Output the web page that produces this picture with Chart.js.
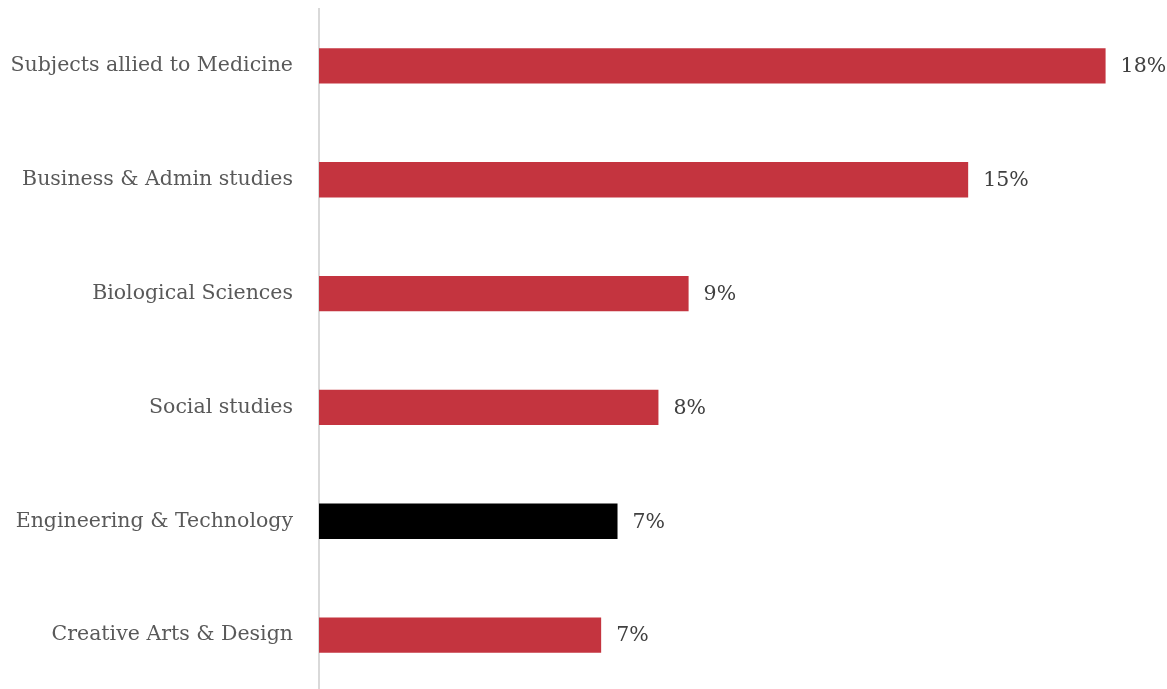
<!DOCTYPE html>
<html>
<head>
<meta charset="utf-8">
<script src="https://cdn.jsdelivr.net/npm/chart.js@4"></script>
<style>
  html, body { margin: 0; padding: 0; background: #fff; overflow: hidden; }
  #wrap { position: relative; width: 1167px; height: 692px; }
</style>
</head>
<body>
<div id="wrap"><canvas id="myChart"></canvas></div>
<script>
// subject areas, top to bottom
const subjects = [
    'Subjects allied to Medicine',
    'Business & Admin studies',
    'Biological Sciences',
    'Social studies',
    'Engineering & Technology',
    'Creative Arts & Design'
];
// share of students (%)
const shares = [18.26, 15.07, 8.58, 7.88, 6.93, 6.55];
const highlight = 'Engineering & Technology';

const barColors = subjects.map(s => s === highlight ? '#000000' : '#c4343f');
const fontFamily = '"DejaVu Serif", Georgia, serif';

// draws the "18%" style labels at the end of each bar
const valueLabels = {
    id: 'valueLabels',
    afterDatasetsDraw(chart) {
        const ctx = chart.ctx;
        const meta = chart.getDatasetMeta(0);
        ctx.save();
        ctx.font = '20.5px ' + fontFamily;
        ctx.fillStyle = '#404040';
        ctx.textAlign = 'left';
        ctx.textBaseline = 'middle';
        meta.data.forEach((bar, i) => {
            const v = chart.data.datasets[0].data[i];
            ctx.fillText(Math.round(v) + '%', bar.x + 15, bar.y + 1);
        });
        ctx.restore();
    }
};

new Chart(document.getElementById('myChart'), {
    type: 'bar',
    data: {
        labels: subjects,
        datasets: [{
            data: shares,
            backgroundColor: barColors,
            borderWidth: 0,
            barPercentage: 0.62,
            categoryPercentage: 0.5
        }]
    },
    options: {
        indexAxis: 'y',
        responsive: true,
        maintainAspectRatio: false,
        animation: false,
        layout: { padding: { top: 9, right: 8, bottom: 0, left: 0 } },
        plugins: {
            legend: { display: false },
            tooltip: { enabled: false }
        },
        scales: {
            x: {
                display: false,
                min: 0,
                max: 19.5
            },
            y: {
                grid: { display: false, drawTicks: false },
                border: { display: true, color: '#d9d9d9', width: 2 },
                ticks: {
                    color: '#595959',
                    padding: 26,
                    font: { family: fontFamily, size: 20.5 }
                },
                afterFit(scale) {
                    scale.width = 319;
                    // tick padding would also be added above and below the axis
                    scale.paddingTop = 0;
                    scale.paddingBottom = 0;
                }
            }
        }
    },
    plugins: [valueLabels]
});
</script>
</body>
</html>
